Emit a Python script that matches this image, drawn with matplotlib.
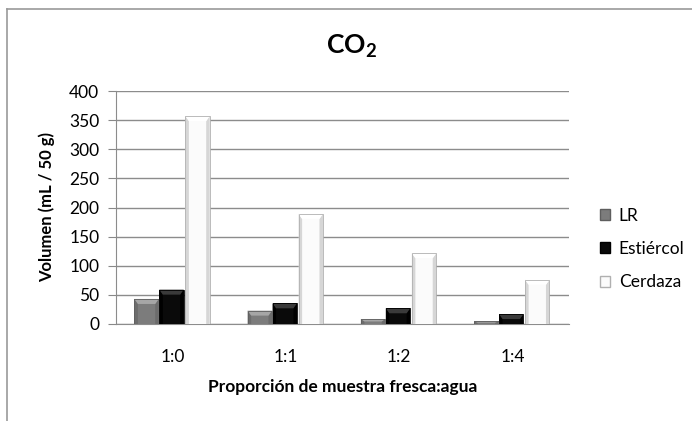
import matplotlib
matplotlib.use("Agg")
import matplotlib.pyplot as plt
from matplotlib.lines import Line2D
from matplotlib.patches import Patch, Polygon
import numpy as np

plt.rcParams['font.family'] = ['Lato', 'DejaVu Sans']
plt.rcParams['mathtext.fontset'] = 'custom'
plt.rcParams['mathtext.rm'] = 'Lato'
plt.rcParams['mathtext.bf'] = 'Lato:bold'

categories = ["1:0", "1:1", "1:2", "1:4"]
series_names = ["LR", "Estiércol", "Cerdaza"]
lr = [43, 23, 8.6, 4.5]
estiercol = [59, 35.5, 27, 17]
cerdaza = [357, 189, 121.5, 76]
yticks = [0, 50, 100, 150, 200, 250, 300, 350, 400]

W, H = 692, 421
fig = plt.figure(figsize=(W / 100, H / 100), dpi=100)
ax = fig.add_axes([116 / W, 1 - 324 / H, (569 - 116) / W, (324 - 91) / H])

x = np.arange(len(categories))
width = 0.215
offsets = [-0.23, -0.01, 0.22]
faces = ["#7c7c7c", "#0a0a0a", "#fbfbfb"]
edges = ["#5e5e5e", "#000000", "#b0b0b0"]
tops = ["#a6a6a6", "#3a3a3a", "#ffffff"]
sides = ["#6c6c6c", "#000000", "#d6d6d6"]

ax.set_xlim(-0.5, len(categories) - 0.5)
ax.set_ylim(0, 400)

# pixel -> data conversions for the bevel effect
px_x = (len(categories)) / (569 - 116)
px_y = 400 / (324 - 91)

for vals, off, fc, ec, tc, sc in zip([lr, estiercol, cerdaza], offsets, faces, edges, tops, sides):
    bars = ax.bar(x + off, vals, width, color=fc, edgecolor='none', zorder=3)
    for b in bars:
        x0 = b.get_x()
        x1 = x0 + b.get_width()
        h = b.get_height()
        bx = 3.5 * px_x
        by = min(5 * px_y, h / 2)
        ax.add_patch(Polygon([[x0, 0], [x0, h], [x0 + bx, h - by], [x0 + bx, 0]],
                             closed=True, facecolor=sc, edgecolor='none', zorder=3.5))
        ax.add_patch(Polygon([[x1, 0], [x1, h], [x1 - bx, h - by], [x1 - bx, 0]],
                             closed=True, facecolor=sc, edgecolor='none', zorder=3.5))
        ax.add_patch(Polygon([[x0, h], [x1, h], [x1 - bx, h - by], [x0 + bx, h - by]],
                             closed=True, facecolor=tc, edgecolor='none', zorder=3.6))
        ax.add_patch(Polygon([[x0, 0], [x0, h], [x1, h], [x1, 0]], closed=True,
                             facecolor='none', edgecolor=ec, linewidth=0.6, zorder=3.7))

ax.set_yticks(yticks)
ax.set_xticks(x)
ax.set_xticklabels(categories, fontsize=12.5)
ax.tick_params(axis='x', length=0, pad=18)
ax.tick_params(axis='y', length=6, color="#888888", labelsize=12.5, pad=6, direction='out')
ax.yaxis.grid(True, color="#8c8c8c", linewidth=1.0, zorder=0)
ax.set_axisbelow(True)
for s in ['top', 'right']:
    ax.spines[s].set_visible(False)
ax.spines['left'].set_color("#8c8c8c")
ax.spines['bottom'].set_color("#8c8c8c")

ax.set_ylabel("Volumen (mL / 50 g)", fontsize=12, fontweight='bold')
ax.yaxis.set_label_coords((55 - 116) / (569 - 116), 0.5)
ax.set_xlabel("Proporción de muestra fresca:agua", fontsize=12.5, fontweight='bold', labelpad=10)

fig.text(351 / W, 1 - 46 / H, r"$\mathbf{CO_2}$", ha='center', va='center', fontsize=19)

handles = [Patch(facecolor=fc, edgecolor=ec) for fc, ec in zip(faces, edges)]
leg = fig.legend(handles, series_names, loc='center left', bbox_to_anchor=(584 / W, 1 - 249 / H),
                 frameon=False, fontsize=12.5, handlelength=0.6, handleheight=0.6,
                 labelspacing=1.0, handletextpad=0.5)

# chart frame
fig.add_artist(Line2D([7 / W, 1], [1 - 9 / H, 1 - 9 / H], color="#999999", linewidth=1.2))
fig.add_artist(Line2D([7 / W, 7 / W], [0, 1 - 9 / H], color="#999999", linewidth=1.2))

fig.savefig("out.png", dpi=100)
